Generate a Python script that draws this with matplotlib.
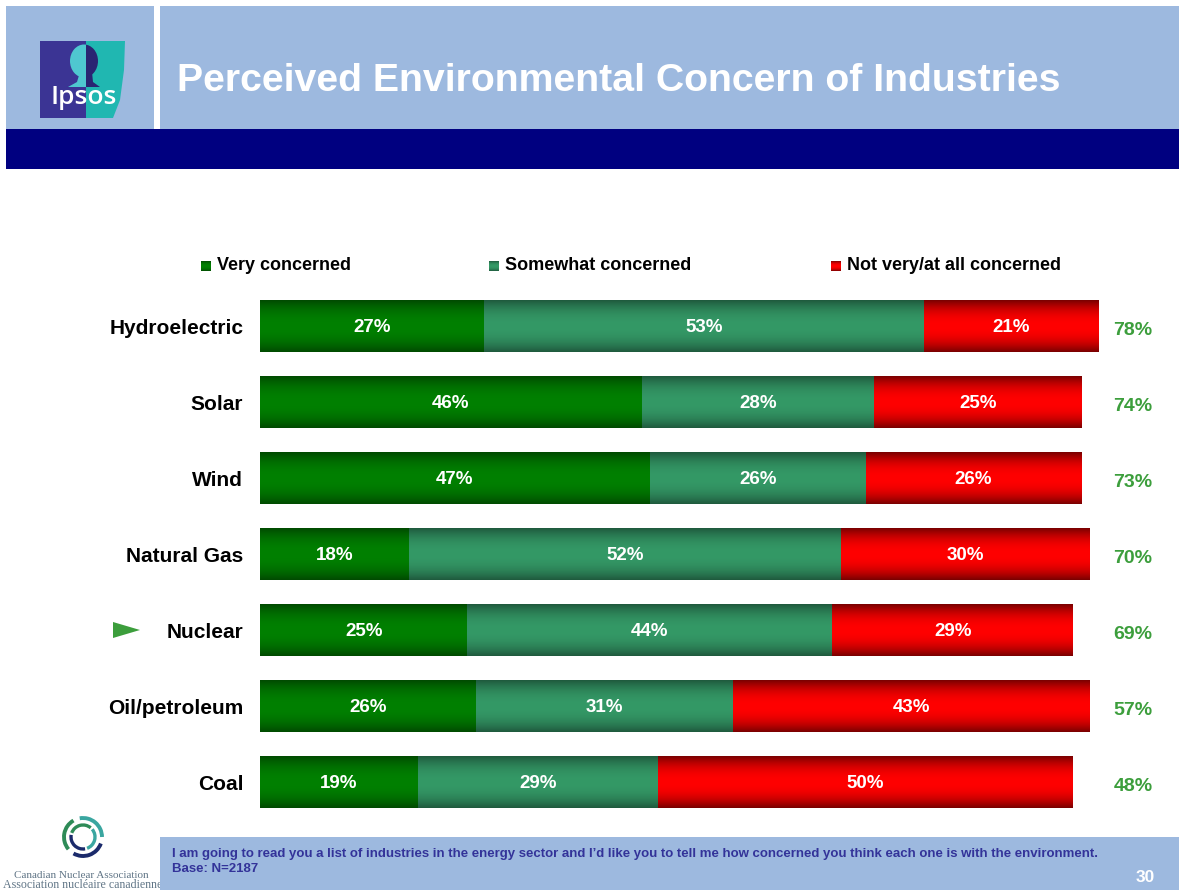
import numpy as np
import matplotlib
matplotlib.use("Agg")
import matplotlib.pyplot as plt
from matplotlib.patches import Rectangle, Polygon, Arc, Ellipse
from matplotlib.colors import to_rgb

plt.rcParams['font.family'] = ['Liberation Sans', 'DejaVu Sans']

# ---------------- data ----------------
categories = ['Hydroelectric', 'Solar', 'Wind', 'Natural Gas', 'Nuclear', 'Oil/petroleum', 'Coal']
very_concerned = [27, 46, 47, 18, 25, 26, 19]
somewhat_concerned = [53, 28, 26, 52, 44, 31, 29]
not_concerned = [21, 25, 26, 30, 29, 43, 50]
totals = [78, 74, 73, 70, 69, 57, 48]
series_names = ['Very concerned', 'Somewhat concerned', 'Not very/at all concerned']
title = 'Perceived Environmental Concern of Industries'
footnote1 = ("I am going to read you a list of industries in the energy sector and I\u2019d like you "
             "to tell me how concerned you think each one is with the environment.")
footnote2 = 'Base: N=2187'
page_no = '30'

# ---------------- styles ----------------
W, H = 1179, 890
LIGHT = '#9DB9DF'
NAVY = '#000080'
shades = [('#004a00', '#008000'), ('#1f5a3e', '#349966'), ('#7a0000', '#ff0000')]
TOTAL_GREEN = '#3C9E3C'


def grad_img(dark, bright, n=80):
    t = np.linspace(0, 1, n)
    f = 1 - np.abs(2 * t - 1) ** 2.2
    d = np.array(to_rgb(dark)); b = np.array(to_rgb(bright))
    rgb = d[None, :] + (b - d)[None, :] * f[:, None]
    return rgb[:, None, :]


fig = plt.figure(figsize=(W / 100, H / 100), dpi=100)

# background axes in pixel coordinates
bg = fig.add_axes([0, 0, 1, 1], zorder=0)
bg.set_xlim(0, W); bg.set_ylim(H, 0); bg.axis('off')

# header
bg.add_patch(Rectangle((6, 6), 148, 123, color=LIGHT, lw=0))
bg.add_patch(Rectangle((160, 6), W - 160, 123, color=LIGHT, lw=0))
bg.add_patch(Rectangle((6, 129), W - 6, 40, color=NAVY, lw=0))
bg.text(177, 81, title, color='white', fontsize=28.3, fontweight='bold', va='center', ha='left')

# Ipsos logo
PURP, TEAL = '#3B3494', '#20B7B1'
bg.add_patch(Rectangle((40, 41), 46, 77, color=PURP, lw=0))
bg.add_patch(Polygon([(86, 41), (125, 41), (124, 70), (120, 100), (113, 118), (86, 118)],
                     closed=True, color=TEAL, lw=0))
left_clip = Rectangle((40, 41), 46, 77, transform=bg.transData)
right_clip = Rectangle((86, 41), 40, 77, transform=bg.transData)
for col, clip in [('#4FC7D0', left_clip), ('#2A2472', right_clip)]:
    for p in [Ellipse((84, 61), 28, 33),
              Polygon([(80, 72), (92, 72), (93, 82), (100, 87), (68, 87), (77, 82)])]:
        p.set_color(col); p.set_linewidth(0)
        bg.add_patch(p)
        p.set_clip_path(clip)
bg.text(84, 98, 'Ipsos', color='white', fontsize=19, fontweight='semibold', ha='center', va='center',
        family=['Open Sans', 'DejaVu Sans'])

# CNA logo (drawn below footer box)
for ang, col in [(0, '#1B2A6B'), (120, '#2E8B57'), (240, '#3AA6A0')]:
    bg.add_patch(Arc((83, 837), 38, 38, angle=ang, theta1=20, theta2=120, color=col, lw=2.8))
    bg.add_patch(Arc((83, 837), 24, 24, angle=ang + 70, theta1=10, theta2=120, color=col, lw=2.4))
cna_font = ['Liberation Serif', 'DejaVu Serif']
bg.text(81, 875, 'Canadian Nuclear Association', color='#607586', fontsize=8.0, ha='center',
        va='center', family=cna_font, zorder=0.5)
bg.text(3, 885, 'Association nucl\u00e9aire canadienne', color='#607586', fontsize=8.6, ha='left',
        va='center', family=cna_font, zorder=0.5)

# footer
bg.add_patch(Rectangle((160, 837), W - 160, H - 837, color=LIGHT, lw=0, zorder=1))
bg.text(172, 854, footnote1, color='#333399', fontsize=9.5, fontweight='bold', va='center', ha='left')
bg.text(172, 869, footnote2, color='#333399', fontsize=9.5, fontweight='bold', va='center', ha='left')
bg.text(1155, 877, page_no, color='white', fontsize=12.5, fontweight='bold', va='center', ha='right')

# legend
leg_x = [201, 489, 831]
for lx, name, (dk, br) in zip(leg_x, series_names, shades):
    bg.imshow(grad_img(dk, br), extent=(lx, lx + 10, 271, 261), aspect='auto', interpolation='bilinear', zorder=2)
    bg.text(lx + 16, 266, name, fontsize=13, fontweight='bold', va='center', ha='left', color='black')
bg.set_xlim(0, W); bg.set_ylim(H, 0)

# nuclear arrow
bg.add_patch(Polygon([(113, 622), (113, 638), (140, 630)], closed=True, color='#3C9E3C', lw=0))

# ---------------- chart axes ----------------
x_max = 101
ax = fig.add_axes([260 / W, (H - 820) / H, (1098 - 260) / W, 532 / H], zorder=1)
ax.patch.set_alpha(0)
y = np.arange(len(categories))
lefts = np.zeros(len(categories))
for vals, (dk, br) in zip([very_concerned, somewhat_concerned, not_concerned], shades):
    bars = ax.barh(y, vals, left=lefts, height=0.68, color=br, lw=0)
    img = grad_img(dk, br)
    for b, v in zip(bars, vals):
        x0, y0 = b.get_x(), b.get_y()
        im = ax.imshow(img, extent=(x0, x0 + b.get_width(), y0 + b.get_height(), y0),
                       aspect='auto', interpolation='bilinear', zorder=2)
        im.set_clip_path(b)
        ax.text(x0 + b.get_width() / 2, y0 + b.get_height() / 2 + 0.02, f'{v}%', color='white',
                fontsize=13.5, fontweight='bold', ha='center', va='center', zorder=3)
    lefts += np.array(vals)

for yi, t in zip(y, totals):
    ax.text(105.2, yi + 0.06, f'{t}%', color=TOTAL_GREEN, fontsize=14, fontweight='bold',
            ha='center', va='center', clip_on=False)

ax.set_xlim(0, x_max)
ax.set_ylim(len(categories) - 0.5, -0.5)
ax.set_yticks(y)
ax.set_yticklabels(categories, fontsize=15, fontweight='bold')
ax.tick_params(axis='y', length=0, pad=12)
ax.set_xticks([])
for s in ax.spines.values():
    s.set_visible(False)

fig.savefig('out.png', dpi=100)
